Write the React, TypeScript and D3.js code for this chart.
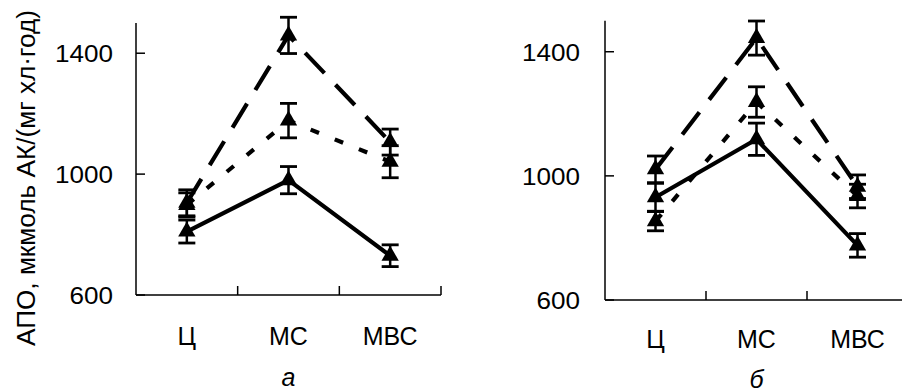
import { useEffect, useRef } from 'react';
import * as d3 from 'd3';

// категории и подписи осей
const categories = ['Ц', 'МС', 'МВС'];
const yTicks = [600, 1000, 1400];
const yTitle = 'АПО, мкмоль АК/(мг хл·год)';

// панель а
const aSolid = [810, 980, 730];
const aSolidErr = [38, 45, 36];
const aDashed = [905, 1459, 1106];
const aDashedErr = [43, 60, 43];
const aDotted = [898, 1177, 1041];
const aDottedErr = [40, 57, 53];

// панель б
const bSolid = [931, 1118, 776];
const bSolidErr = [45, 52, 38];
const bDashed = [1021, 1444, 965];
const bDashedErr = [43, 55, 38];
const bDotted = [854, 1238, 935];
const bDottedErr = [31, 49, 38];

const FONT = '"Liberation Sans", Arial, sans-serif';

type Series = { values: number[]; errs: number[]; dash: string | null };

export default function App() {
  const svgRef = useRef<SVGSVGElement>(null);

  useEffect(() => {
    const svg = d3.select(svgRef.current);
    svg.selectAll('*').remove();

    const panels = [
      {
        x0: 136, x1: 441, yBottom: 295, yTop: 23, pad: 23, labelY: 345, letter: 'а', letterY: 386,
        series: [
          { values: aDashed, errs: aDashedErr, dash: '28,16' },
          { values: aDotted, errs: aDottedErr, dash: '9,17' },
          { values: aSolid, errs: aSolidErr, dash: null },
        ] as Series[],
      },
      {
        x0: 605, x1: 908, yBottom: 300, yTop: 20.7, pad: 25, labelY: 348, letter: 'б', letterY: 388,
        series: [
          { values: bDashed, errs: bDashedErr, dash: '28,16' },
          { values: bDotted, errs: bDottedErr, dash: '9,17' },
          { values: bSolid, errs: bSolidErr, dash: null },
        ] as Series[],
      },
    ];

    panels.forEach(p => {
      const g = svg.append('g');

      const x = d3.scaleBand<string>()
        .domain(categories)
        .range([p.x0, p.x1])
        .padding(0);

      const y = d3.scaleLinear()
        .domain([600, 1500])
        .range([p.yBottom, p.yTop]);

      // ось Y
      g.append('line')
        .attr('x1', p.x0).attr('x2', p.x0)
        .attr('y1', y(600)).attr('y2', y(1500))
        .attr('stroke', '#000').attr('stroke-width', 1.5);

      g.selectAll('.ytick')
        .data(yTicks)
        .enter().append('line')
        .attr('x1', p.x0).attr('x2', p.x0 + 9)
        .attr('y1', d => y(d)).attr('y2', d => y(d))
        .attr('stroke', '#000').attr('stroke-width', 1.5);

      // подписи делений чуть растянуты по ширине, как в оригинале
      g.selectAll('.ylabel')
        .data(yTicks)
        .enter().append('text')
        .attr('x', p.x0 - p.pad)
        .attr('y', d => y(d) + 9)
        .attr('text-anchor', 'end')
        .attr('font-family', FONT)
        .attr('font-size', 24)
        .attr('textLength', d => String(d).length * 14.5)
        .attr('lengthAdjust', 'spacingAndGlyphs')
        .text(d => String(d));

      // ось X: линия и штрихи на границах категорий
      g.append('line')
        .attr('x1', p.x0).attr('x2', p.x1)
        .attr('y1', p.yBottom).attr('y2', p.yBottom)
        .attr('stroke', '#000').attr('stroke-width', 1.5);

      g.selectAll('.xtick')
        .data(categories)
        .enter().append('line')
        .attr('x1', d => (x(d) as number) + x.bandwidth())
        .attr('x2', d => (x(d) as number) + x.bandwidth())
        .attr('y1', p.yBottom)
        .attr('y2', p.yBottom - 9)
        .attr('stroke', '#000').attr('stroke-width', 1.5);

      g.selectAll('.xlabel')
        .data(categories)
        .enter().append('text')
        .attr('x', d => (x(d) as number) + x.bandwidth() / 2)
        .attr('y', p.labelY)
        .attr('text-anchor', 'middle')
        .attr('font-family', FONT)
        .attr('font-size', 25)
        .text(d => d);

      g.append('text')
        .attr('x', (x('МС') as number) + x.bandwidth() / 2)
        .attr('y', p.letterY)
        .attr('text-anchor', 'middle')
        .attr('font-family', FONT)
        .attr('font-size', 25)
        .attr('font-style', 'italic')
        .text(p.letter);

      const cx = (i: number) => (x(categories[i]) as number) + x.bandwidth() / 2;

      // линии серий
      const line = d3.line<number>()
        .x((d, i) => cx(i))
        .y(d => y(d));

      p.series.forEach(s => {
        g.append('path')
          .datum(s.values)
          .attr('d', line)
          .attr('fill', 'none')
          .attr('stroke', '#000')
          .attr('stroke-width', 4.2)
          .attr('stroke-dasharray', s.dash)
          .attr('stroke-linejoin', 'round');
      });

      // планки погрешностей
      p.series.forEach(s => {
        const eb = g.append('g');
        s.values.forEach((v, i) => {
          const top = y(v + s.errs[i]);
          const bot = y(v - s.errs[i]);
          eb.append('line')
            .attr('x1', cx(i)).attr('x2', cx(i))
            .attr('y1', top).attr('y2', bot)
            .attr('stroke', '#000').attr('stroke-width', 2.5);
          [top, bot].forEach(yy => {
            eb.append('line')
              .attr('x1', cx(i) - 8.5).attr('x2', cx(i) + 8.5)
              .attr('y1', yy).attr('y2', yy)
              .attr('stroke', '#000').attr('stroke-width', 2.8);
          });
        });
      });

      // маркеры-треугольники
      const tri = d3.symbol(d3.symbolTriangle, 130);
      p.series.forEach(s => {
        g.selectAll(null)
          .data(s.values)
          .enter().append('path')
          .attr('d', tri)
          .attr('transform', (d, i) => `translate(${cx(i)},${y(d)})`)
          .attr('fill', '#000');
      });
    });

    // подпись оси Y
    svg.append('text')
      .attr('transform', 'translate(35,178) rotate(-90)')
      .attr('text-anchor', 'middle')
      .attr('font-family', FONT)
      .attr('font-size', 25)
      .attr('textLength', 336)
      .attr('lengthAdjust', 'spacingAndGlyphs')
      .text(yTitle);
  }, []);

  return (
    <svg
      ref={svgRef}
      width={902}
      height={392}
      style={{ position: 'absolute', left: 0, top: 0, background: '#fff' }}
    ></svg>
  );
}
